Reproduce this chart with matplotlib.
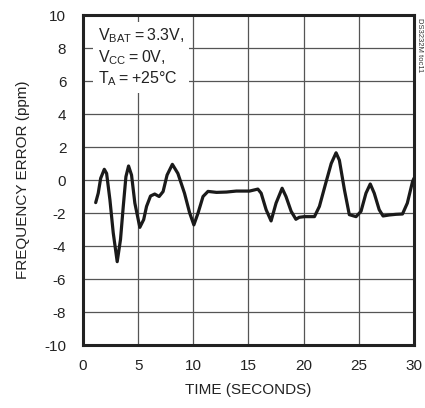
import matplotlib
matplotlib.use("Agg")
import matplotlib.pyplot as plt
from matplotlib import font_manager

# pick a narrow font if available
names = {f.name for f in font_manager.fontManager.ttflist}
fam = "Liberation Sans Narrow" if "Liberation Sans Narrow" in names else "Liberation Sans"
plt.rcParams["font.family"] = [fam, "DejaVu Sans"]
plt.rcParams["axes.unicode_minus"] = False

# data
time_s = [1.15, 1.38, 1.6, 1.93, 2.14, 2.44, 2.74, 3.1, 3.4, 3.65, 3.89, 4.13, 4.4, 4.7,
          5.15, 5.5, 5.76, 6.12, 6.5, 6.9, 7.26, 7.62, 8.1, 8.6, 9.2, 9.67, 10.05,
          10.43, 10.88, 11.33, 12.1, 13.0, 13.9, 15.1, 15.85, 16.15, 16.6, 17.05,
          17.5, 18.05, 18.4, 18.87, 19.3, 19.6, 20.07, 20.98, 21.43, 22.0, 22.5,
          22.94, 23.24, 23.7, 24.14, 24.75, 25.2, 25.65, 26.04, 26.4, 26.85, 27.2,
          27.76, 28.36, 28.96, 29.4, 29.87, 30.0]
freq_err = [-1.37, -0.8, 0.1, 0.65, 0.4, -1.2, -3.2, -4.95, -3.6, -1.6, 0.2, 0.85, 0.3, -1.4,
            -2.87, -2.4, -1.6, -0.97, -0.85, -1.0, -0.7, 0.3, 0.95, 0.4, -0.8, -2.0, -2.72,
            -2.0, -1.0, -0.69, -0.75, -0.73, -0.67, -0.67, -0.55, -0.8, -1.8, -2.48,
            -1.4, -0.5, -1.0, -1.9, -2.38, -2.26, -2.22, -2.22, -1.6, -0.2, 1.0,
            1.65, 1.2, -0.6, -2.1, -2.22, -1.9, -0.8, -0.24, -0.8, -1.8, -2.18,
            -2.12, -2.08, -2.06, -1.4, -0.1, 0.1]
x_ticks = [0, 5, 10, 15, 20, 25, 30]
y_ticks = [10, 8, 6, 4, 2, 0, -2, -4, -6, -8, -10]

fig = plt.figure(figsize=(4.25, 4.08), dpi=100)
ax = fig.add_axes([0.1953, 0.1544, 0.7787, 0.8088])

ax.plot(time_s, freq_err, color="#1a1a1a", lw=2.3, solid_joinstyle="round",
        solid_capstyle="round", zorder=3)

ax.set_xlim(0, 30)
ax.set_ylim(-10, 10)
ax.set_xticks(x_ticks)
ax.set_yticks(y_ticks)
ax.tick_params(length=0, labelsize=11, colors="#222222")
ax.tick_params(axis="y", pad=12)
ax.tick_params(axis="x", pad=10)
ax.grid(True, color="#555555", lw=0.9)
for s in ax.spines.values():
    s.set_linewidth(2.2)
    s.set_color("#222222")

ax.set_xlabel("TIME (SECONDS)", fontsize=11, color="#222222", labelpad=7)
ax.set_ylabel("FREQUENCY ERROR (ppm)", fontsize=11, color="#222222", labelpad=10)

# conditions box, white to break the grid lines
ax.text(0.045, 0.965,
        "$\\mathregular{V_{BAT} = 3.3V,}$\n$\\mathregular{V_{CC} = 0V,}$\n$\\mathregular{T_A = +25°C}$",
        transform=ax.transAxes, ha="left", va="top", fontsize=11.5, color="#222222",
        linespacing=1.2, zorder=4,
        bbox=dict(boxstyle="square,pad=0.3", fc="white", ec="none"))

fig.text(0.988, 0.955, "DS3232M toc11", rotation=270, ha="center", va="top",
         fontsize=5.5, color="#333333")

fig.savefig("out.png", dpi=100)
